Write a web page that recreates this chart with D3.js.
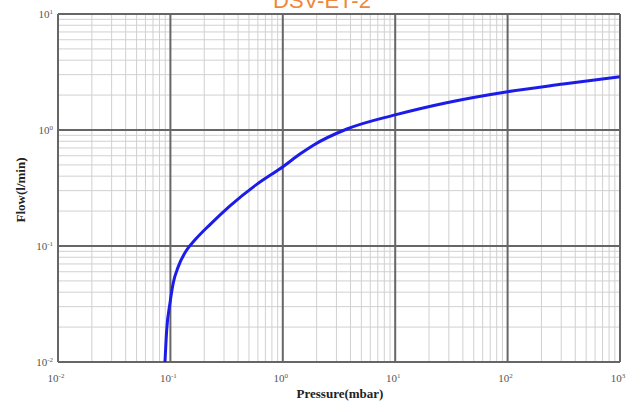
<!DOCTYPE html>
<html><head><meta charset="utf-8">
<script src="https://cdn.jsdelivr.net/npm/d3@7"></script>
<style>body{margin:0;background:#fff}svg{display:block}</style>
</head><body>
<svg id="c" width="640" height="412"></svg>
<script>
const title = "DSV-ET-2";
const xLabel = "Pressure(mbar)";
const yLabel = "Flow(l/min)";
const xTickExps = [-2, -1, 0, 1, 2, 3];
const yTickExps = [-2, -1, 0, 1];
const pressure = [0.0895, 0.0927, 0.0992, 0.106, 0.1175, 0.1397, 0.1656, 0.225, 0.339, 0.586, 1.01, 1.42, 1.87, 3.72, 9.96, 28.7, 100, 313, 1000];
const flow     = [0.0100, 0.0189, 0.0323, 0.048, 0.0664, 0.0925, 0.113, 0.153, 0.222, 0.340, 0.485, 0.62, 0.74, 1.02, 1.35, 1.72, 2.14, 2.49, 2.88];

const svg = d3.select("#c");
const L = 58, R = 620, T = 14, B = 362;
const x = d3.scaleLog().domain([1e-2, 1e3]).range([L, R]);
const y = d3.scaleLog().domain([1e-2, 1e1]).range([B, T]);

const minorX = [], minorY = [];
for (let e = -2; e < 3; e++) for (let k = 2; k <= 9; k++) minorX.push(k * Math.pow(10, e));
for (let e = -2; e < 1; e++) for (let k = 2; k <= 9; k++) minorY.push(k * Math.pow(10, e));

const g = svg.append("g");
g.selectAll(".mx").data(minorX).join("line")
  .attr("x1", d => x(d)).attr("x2", d => x(d)).attr("y1", T).attr("y2", B)
  .attr("stroke", "#d0d0d0").attr("stroke-width", 1);
g.selectAll(".my").data(minorY).join("line")
  .attr("y1", d => y(d)).attr("y2", d => y(d)).attr("x1", L).attr("x2", R)
  .attr("stroke", "#d0d0d0").attr("stroke-width", 1);
g.selectAll(".Mx").data(xTickExps).join("line")
  .attr("x1", d => x(Math.pow(10, d))).attr("x2", d => x(Math.pow(10, d))).attr("y1", T).attr("y2", B)
  .attr("stroke", "#666").attr("stroke-width", 2);
g.selectAll(".My").data(yTickExps).join("line")
  .attr("y1", d => y(Math.pow(10, d))).attr("y2", d => y(Math.pow(10, d))).attr("x1", L).attr("x2", R)
  .attr("stroke", "#666").attr("stroke-width", 2);

// tick labels
const font = "'Liberation Serif', 'DejaVu Serif', serif";
const xl = svg.append("g").selectAll("text").data(xTickExps).join("text")
  .attr("x", d => x(Math.pow(10, d)) - 2).attr("y", 382)
  .attr("text-anchor", "middle").attr("font-family", font).attr("font-size", 11).attr("fill", "#555");
xl.append("tspan").text("10");
xl.append("tspan").attr("dy", -4).attr("font-size", 7).text(d => d);

const yl = svg.append("g").selectAll("text").data(yTickExps).join("text")
  .attr("x", 53).attr("y", d => y(Math.pow(10, d)) + 4)
  .attr("text-anchor", "end").attr("font-family", font).attr("font-size", 11).attr("fill", "#555");
yl.append("tspan").text("10");
yl.append("tspan").attr("dy", -4).attr("font-size", 7).text(d => d);

// curve
const line = d3.line().x((d, i) => x(pressure[i])).y((d, i) => y(flow[i])).curve(d3.curveMonotoneX);
svg.append("path").datum(pressure).attr("d", line)
  .attr("fill", "none").attr("stroke", "#1c1ce8").attr("stroke-width", 3).attr("stroke-linejoin", "round");

// axis titles
svg.append("text").attr("x", 340).attr("y", 398).attr("text-anchor", "middle")
  .attr("font-family", font).attr("font-weight", "bold").attr("font-size", 13).attr("fill", "#222").text(xLabel);
svg.append("text").attr("transform", "translate(25," + 190 + ") rotate(-90)").attr("text-anchor", "middle")
  .attr("font-family", font).attr("font-weight", "bold").attr("font-size", 13).attr("fill", "#222").text(yLabel);

// title (clipped at the top edge, as in the reference)
svg.append("text").attr("x", 322).attr("y", 8).attr("text-anchor", "middle")
  .attr("font-family", "'Liberation Sans', Arial, sans-serif").attr("font-size", 22).attr("fill", "#f0873a").text(title);
</script>
</body></html>
